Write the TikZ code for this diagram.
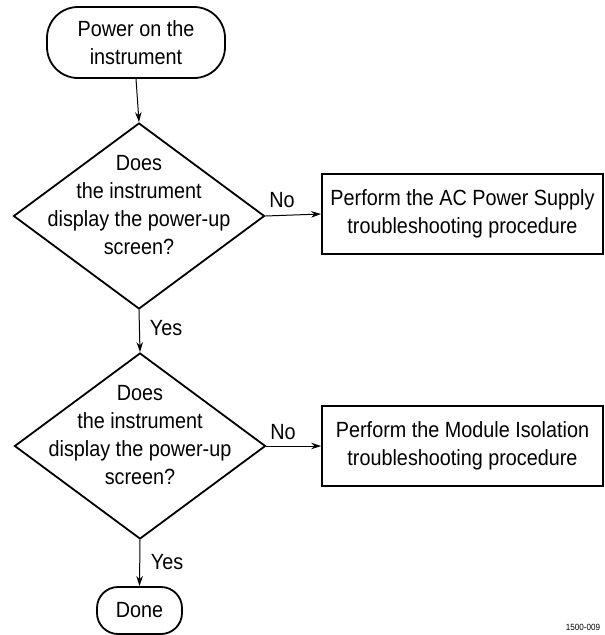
\documentclass[tikz,border=0pt]{standalone}
\usepackage{fontspec}
\setmainfont{Liberation Sans}[FakeStretch=0.9]
\usetikzlibrary{shapes.geometric,arrows.meta}
\begin{document}
\begin{tikzpicture}[x=1pt,y=-1pt,
  font=\fontsize{22}{28}\selectfont,
  shapebox/.style={draw,line width=1.8pt},
  terminal/.style={shapebox,rectangle,align=center,inner sep=0pt},
  decision/.style={shapebox,diamond,minimum width=251pt,minimum height=186pt,inner sep=0pt},
  procbox/.style={shapebox,rectangle,align=center,minimum width=281pt,minimum height=80pt,inner sep=0pt},
  qtext/.style={align=center,inner sep=0pt},
  lbl/.style={inner sep=0pt},
  flow/.style={line width=1pt,-{Stealth[length=10pt,width=6.5pt]}}]
\useasboundingbox (0,0) rectangle (605,635);

\node[terminal,minimum width=178pt,minimum height=71pt,rounded corners=31pt] (start) at (136,42.5) {Power on the\\instrument};

\node[decision] (d1) at (139,216) {};
\node[qtext] (q1) at (139,205) {Does\\the instrument\\display the power-up\\screen?};
\node[procbox] (b1) at (462.5,214) {Perform the AC Power Supply\\troubleshooting procedure};

\node[decision] (d2) at (140,446) {};
\node[qtext] (q2) at (140,435) {Does\\the instrument\\display the power-up\\screen?};
\node[procbox] (b2) at (462.5,446) {Perform the Module Isolation\\troubleshooting procedure};

\node[terminal,minimum width=85pt,minimum height=47pt,rounded corners=21pt] (done) at (139.5,610.5) {Done};

\draw[flow] (start.south) -- (d1.north);
\draw[flow] (d1.east) -- (b1.west);
\draw[flow] (d1.south) -- (d2.north);
\draw[flow] (d2.east) -- (b2.west);
\draw[flow] (d2.south) -- (done.north);

\node[lbl] (no1) at (282,200) {No};
\node[lbl] (no2) at (283,432) {No};
\node[lbl] (yes1) at (166,328) {Yes};
\node[lbl] (yes2) at (167,562) {Yes};

\node[lbl,font=\fontsize{9}{10}\selectfont] (fig) at (583,627) {1500-009};
\end{tikzpicture}
\end{document}
